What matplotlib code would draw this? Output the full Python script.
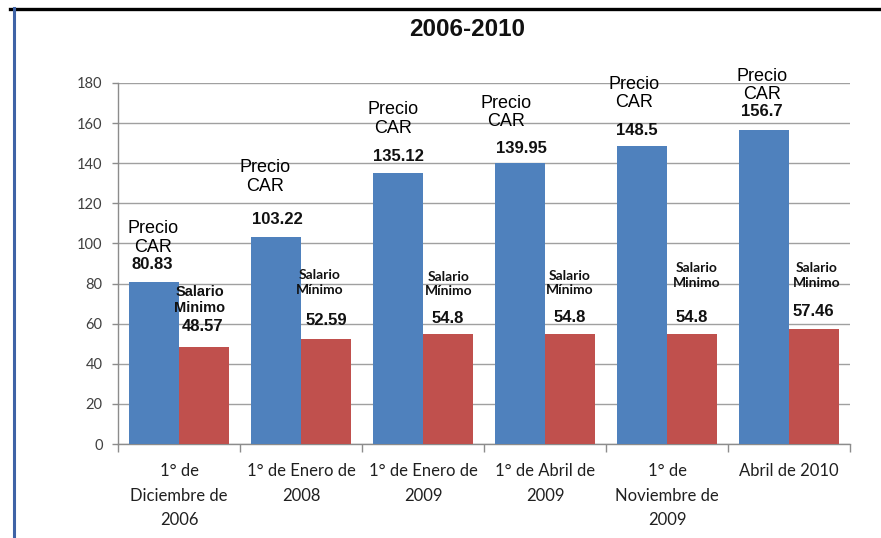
import matplotlib
matplotlib.use('Agg')
import matplotlib.pyplot as plt
from matplotlib.lines import Line2D
import numpy as np

# ---------------- data ----------------
categories = ["1° de\nDiciembre de\n2006", "1° de Enero de\n2008", "1° de Enero de\n2009",
              "1° de Abril de\n2009", "1° de\nNoviembre de\n2009", "Abril de 2010"]
precio_car = [80.83, 103.22, 135.12, 139.95, 148.5, 156.7]
salario_minimo = [48.57, 52.59, 54.8, 54.8, 54.8, 57.46]
precio_value_text = ["80.83", "103.22", "135.12", "139.95", "148.5", "156.7"]
salario_value_text = ["48.57", "52.59", "54.8", "54.8", "54.8", "57.46"]
precio_name = "Precio\nCAR"
salario_names = ["Salario\nMinimo", "Salario\nMínimo", "Salario\nMínimo",
                 "Salario\nMínimo", "Salario\nMinimo", "Salario\nMinimo"]
yticks = [0, 20, 40, 60, 80, 100, 120, 140, 160, 180]
title = "2006-2010"

# ---------------- label placement (pixel offsets from bar top) ----------------
blue_name_off = [(-1, 44), (-10.5, 60), (-4.5, 54), (-14, 51), (-8, 52.5), (-2, 44)]
blue_val_off = [(-1.5, 17), (1, 17), (0, 17), (1, 15), (-5.5, 16), (-2, 18)]
red_name_off = [(-4, 46.5), (-6.5, 56), (1, 50), (0, 51), (4.5, 58.5), (3, 53.5)]
red_val_off = [(-1, 20), (0, 18), (0, 16), (0, 17), (-0.5, 17), (-0.5, 17)]

BLUE = '#4F81BD'
RED = '#C0504D'
GRID = '#A0A0A0'

W, H = 881, 538
fig = plt.figure(figsize=(W / 100, H / 100), dpi=100)
fig.patch.set_facecolor('white')

ax = fig.add_axes([118 / W, 1 - 444 / H, (850 - 118) / W, (444 - 83) / H])

x = np.arange(len(categories))
bw = 0.41
ax.bar(x - bw / 2, precio_car, width=bw, color=BLUE, zorder=3)
ax.bar(x + bw / 2, salario_minimo, width=bw, color=RED, zorder=3)

ax.set_xlim(-0.5, len(categories) - 0.5)
ax.set_ylim(0, 180)
ax.set_yticks(yticks)
ax.yaxis.grid(True, color=GRID, lw=1.0, zorder=0)
ax.set_axisbelow(True)

for s in ['top', 'right']:
    ax.spines[s].set_visible(False)
for s in ['left', 'bottom']:
    ax.spines[s].set_color('#8C8C8C')
    ax.spines[s].set_linewidth(1.0)

ax.tick_params(axis='y', direction='out', length=4, width=1, color='#8C8C8C',
               labelsize=10.5, labelcolor='#404040', pad=7)
for lab in ax.get_yticklabels():
    lab.set_fontfamily('Lato')

ax.set_xticks(x)
ax.set_xticklabels(categories, fontsize=12, family='Lato', color='#202020', linespacing=1.63)
ax.tick_params(axis='x', which='major', length=0, pad=14)
ax.set_xticks(np.arange(-0.5, len(categories), 1.0), minor=True)
ax.tick_params(axis='x', which='minor', direction='out', length=6, width=1, color='#8C8C8C')

for i in range(len(categories)):
    xb = x[i] - bw / 2
    xr = x[i] + bw / 2
    ax.annotate(precio_name, (xb, precio_car[i]), xytext=blue_name_off[i],
                textcoords='offset pixels', ha='center', va='center',
                fontsize=13, family='Liberation Sans', color='black',
                linespacing=1.1, zorder=5)
    ax.annotate(precio_value_text[i], (xb, precio_car[i]), xytext=blue_val_off[i],
                textcoords='offset pixels', ha='center', va='center',
                fontsize=12, fontweight='bold', family='Liberation Sans', color='#111111', zorder=5)
    if i == 0:
        nfam, nsize = 'Liberation Sans', 10.5
    else:
        nfam, nsize = 'Lato', 10
    ax.annotate(salario_names[i], (xr, salario_minimo[i]), xytext=red_name_off[i],
                textcoords='offset pixels', ha='center', va='center',
                fontsize=nsize, fontweight='bold', family=nfam, color='#111111',
                linespacing=1.25, zorder=5)
    ax.annotate(salario_value_text[i], (xr, salario_minimo[i]), xytext=red_val_off[i],
                textcoords='offset pixels', ha='center', va='center',
                fontsize=12, fontweight='bold', family='Liberation Sans', color='#111111', zorder=5)

fig.text(467 / W, 1 - 30 / H, title, ha='center', va='center', fontsize=17.5,
         fontweight='bold', family='Liberation Sans', color='#111111')

# frame lines
fig.add_artist(Line2D([10 / W, 1.0], [1 - 8.5 / H, 1 - 8.5 / H], color='black', lw=2.4))
fig.add_artist(Line2D([13.5 / W, 13.5 / W], [0, 1 - 8 / H], color='#3F63A6', lw=2.2))

fig.savefig('out.png', dpi=100, facecolor='white')
